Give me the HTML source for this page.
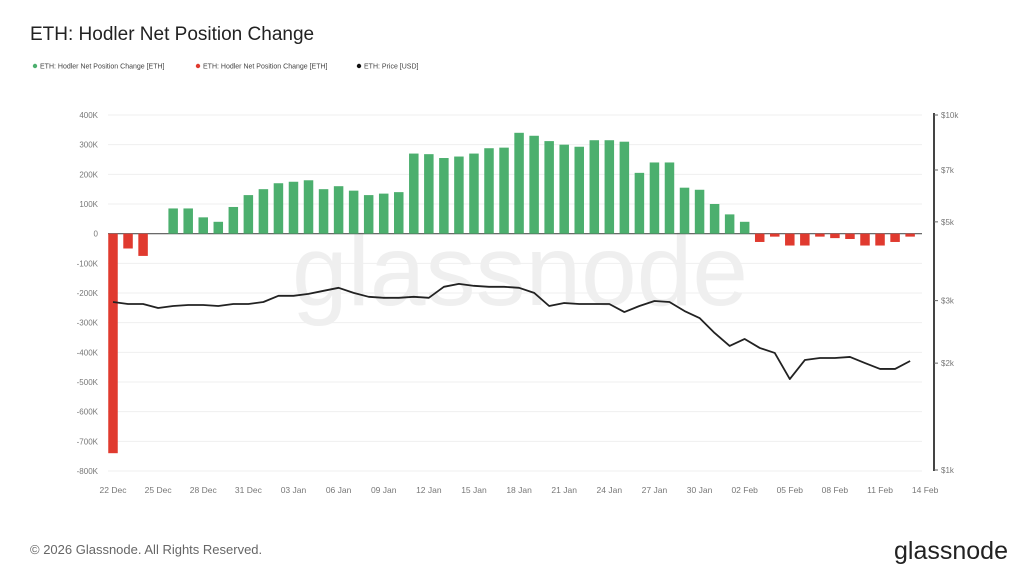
<!DOCTYPE html>
<html><head><meta charset="utf-8"><style>
body{margin:0;background:#fff;width:1024px;height:575px;overflow:hidden;font-family:"Liberation Sans",sans-serif}
</style></head><body>
<svg id="chart" width="1024" height="575" xmlns="http://www.w3.org/2000/svg" font-family="Liberation Sans, sans-serif">
<text x="30" y="40" font-size="19" fill="#222">ETH: Hodler Net Position Change</text>
<g font-size="7" fill="#444">
<g><circle cx="35" cy="66" r="2.2" fill="#4caf6e"/><text x="40" y="68.5">ETH: Hodler Net Position Change [ETH]</text></g>
<g><circle cx="198" cy="66" r="2.2" fill="#e03a2f"/><text x="203" y="68.5">ETH: Hodler Net Position Change [ETH]</text></g>
<g><circle cx="359" cy="66" r="2.2" fill="#111"/><text x="364" y="68.5">ETH: Price [USD]</text></g>
</g>
<text x="520" y="305" font-size="100" fill="#efefef" text-anchor="middle">glassnode</text>
<g id="grid"></g><g id="bars"></g><g id="line"></g><g id="axes"></g>
<text x="30" y="554" font-size="13" fill="#666">© 2026 Glassnode. All Rights Reserved.</text>
<text x="1008" y="559" font-size="25" fill="#222" text-anchor="end">glassnode</text>
</svg>
<script>
const categories=[];for(let i=0;i<54;i++){const d=new Date(Date.UTC(2025,11,22+i));categories.push(d.toISOString().slice(0,10));}
const netChangeK=[-740,-50,-75,0,85,85,55,40,90,130,150,170,175,180,150,160,145,130,135,140,270,268,255,260,270,288,290,340,330,312,300,293,315,315,310,205,240,240,155,148,100,65,40,-28,-10,-40,-40,-10,-15,-18,-40,-40,-28,-10];
const priceUSD=[2973,2935,2935,2860,2897,2916,2916,2897,2935,2935,2973,3095,3095,3135,3197,3260,3155,3075,3055,3055,3075,3055,3281,3345,3302,3281,3281,3260,3155,2897,2954,2935,2935,2935,2786,2897,2992,2973,2804,2680,2432,2236,2339,2207,2137,1804,2041,2068,2068,2082,2001,1926,1926,2028];
const leftTicks=[400,300,200,100,0,-100,-200,-300,-400,-500,-600,-700,-800];
const rightTicks=[10000,7000,5000,3000,2000,1000];
const rightTickLabels=["$10k","$7k","$5k","$3k","$2k","$1k"];
const xTickLabels=["22 Dec","25 Dec","28 Dec","31 Dec","03 Jan","06 Jan","09 Jan","12 Jan","15 Jan","18 Jan","21 Jan","24 Jan","27 Jan","30 Jan","02 Feb","05 Feb","08 Feb","11 Feb","14 Feb"];
const NS="http://www.w3.org/2000/svg";
const X=i=>113+i*15.04;
const YL=v=>115+(400-v)*356/1200;
const YR=p=>115+(4-Math.log10(p))*355;
function mk(t,a,p){const e=document.createElementNS(NS,t);for(const k in a)e.setAttribute(k,a[k]);document.getElementById(p).appendChild(e);return e;}
leftTicks.forEach(v=>{
 const g=mk('line',{x1:108,x2:922,y1:YL(v),y2:YL(v),stroke:v===0?'#555':'#efefef','stroke-width':v===0?1.2:1},'grid');
 
 
 const t=mk('text',{x:98,y:YL(v)+3,'font-size':8,fill:'#777','text-anchor':'end'},'axes');
 t.textContent=v===0?'0':v+'K';
 
 
});
xTickLabels.forEach((s,k)=>{
 const t=mk('text',{x:X(k*3),y:493,'font-size':8.5,fill:'#777','text-anchor':'middle'},'axes');
 t.textContent=s;
 
 
});
const ax=mk('line',{x1:934,x2:934,y1:113,y2:471,stroke:'#444','stroke-width':2},'axes');


rightTicks.forEach((p,k)=>{
 const tk=mk('line',{x1:934,x2:938,y1:YR(p),y2:YR(p),stroke:'#666'},'axes');
 
 
 const t=mk('text',{x:941,y:YR(p)+3,'font-size':8,fill:'#777'},'axes');
 t.textContent=rightTickLabels[k];
 
 
});
netChangeK.forEach((v,i)=>{
 if(v===0)return;
 const y0=YL(0),y1=YL(v);
 const r=mk('rect',{x:X(i)-4.75,width:9.5,y:Math.min(y0,y1),height:Math.abs(y1-y0),fill:v>0?'#4caf6e':'#e03a2f'},'bars');
 
 
});
const pl=mk('polyline',{points:priceUSD.map((p,i)=>X(i)+','+YR(p)).join(' '),fill:'none',stroke:'#222','stroke-width':1.8,'stroke-linejoin':'round'},'line');


</script>
</body></html>
